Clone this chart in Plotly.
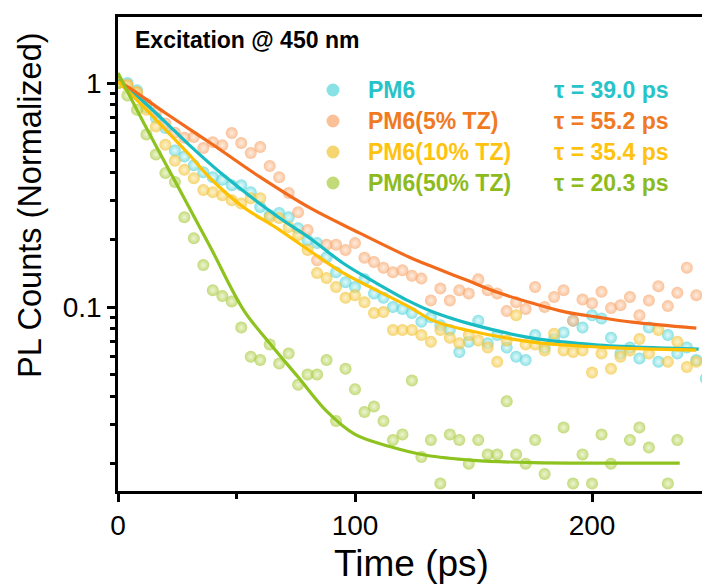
import plotly.graph_objects as go

# ---------------- data ----------------
time_ps = [0, 4, 8, 12, 16, 20, 24, 28, 32, 36, 40, 44, 48, 52, 56, 60, 64, 68, 72, 76,
           80, 84, 88, 92, 96, 100, 104, 108, 112, 116, 120, 124, 128, 132, 136, 140,
           144, 148, 152, 156, 160, 164, 168, 172, 176, 180, 184, 188, 192, 196, 200,
           204, 208, 212, 216, 220, 224, 228, 232, 236, 240, 244, 248]

pm6 = [1.0, 1.0, 0.93, 0.78, 0.70, 0.63, 0.50, 0.47, 0.43, 0.40, 0.38, 0.37, 0.35, 0.35,
       0.326, 0.28, 0.257, 0.263, 0.252, 0.225, 0.199, 0.193, 0.167, 0.143, 0.129, 0.123,
       0.133, 0.115, 0.11, 0.10, 0.098, 0.094, 0.086, 0.090, 0.083, 0.079, 0.063, 0.070,
       0.087, 0.069, 0.075, 0.066, 0.060, 0.058, 0.075, 0.066, 0.072, 0.077, 0.087, 0.081,
       0.092, 0.089, 0.073, 0.062, 0.066, 0.059, 0.081, 0.057, 0.075, 0.062, 0.066, 0.058,
       0.048]

pm6_5tz = [1.0, 0.98, 0.91, 0.81, 0.74, 0.66, 0.60, 0.57, 0.574, 0.513, 0.545, 0.528,
           0.598, 0.54, 0.487, 0.518, 0.426, 0.38, 0.323, 0.265, 0.221, 0.162, 0.19, 0.19,
           0.18, 0.193, 0.166, 0.159, 0.15, 0.143, 0.146, 0.138, 0.134, 0.107, 0.121, 0.107,
           0.119, 0.115, 0.133, 0.119, 0.115, 0.096, 0.105, 0.098, 0.123, 0.10, 0.111, 0.119,
           0.087, 0.108, 0.104, 0.117, 0.099, 0.102, 0.111, 0.092, 0.107, 0.124, 0.101,
           0.116, 0.15, 0.113]

pm6_10tz = [1.0, 0.98, 0.91, 0.76, 0.64, 0.53, 0.45, 0.41, 0.376, 0.333, 0.326, 0.316,
            0.30, 0.29, 0.306, 0.306, 0.252, 0.25, 0.228, 0.21, 0.18, 0.142, 0.135, 0.123,
            0.11, 0.113, 0.105, 0.094, 0.095, 0.079, 0.079, 0.079, 0.075, 0.070, 0.079,
            0.073, 0.069, 0.075, 0.071, 0.066, 0.057, 0.071, 0.092, 0.068, 0.068, 0.064,
            0.076, 0.064, 0.063, 0.064, 0.051, 0.062, 0.053, 0.060, 0.064, 0.072, 0.062,
            0.079, 0.057, 0.070, 0.054, 0.057]

pm6_50tz = [1.0, 0.88, 0.76, 0.59, 0.48, 0.397, 0.362, 0.252, 0.203, 0.154, 0.119, 0.112,
            0.106, 0.081, 0.060, 0.058, 0.068, 0.056, 0.062, 0.045, 0.050, 0.050, 0.058,
            0.031, 0.053, 0.043, 0.034, 0.036, 0.031, 0.0255, 0.027, 0.047, 0.0214, 0.0255,
            0.0163, 0.027, 0.0255, 0.020, 0.0255, 0.022, 0.022, 0.038, 0.022, 0.020, 0.0255,
            0.018, None, 0.029, 0.0163, 0.022, 0.0163, 0.027, 0.020, None, 0.0255, 0.029,
            0.0236, None, 0.0163, 0.0255]

# fitted decay curves
fit_pm6_t = [0, 10, 20, 30, 43, 67, 81, 95, 109, 123, 133, 147, 175, 203, 232, 245]
fit_pm6_v = [1.03, 0.84, 0.67, 0.53, 0.40, 0.255, 0.203, 0.157, 0.128, 0.106, 0.095,
             0.085, 0.0727, 0.0677, 0.0656, 0.0649]
fit_5tz_t = [0, 5, 20, 39, 60, 81, 102, 123, 133, 147, 161, 175, 189, 203, 217, 244]
fit_5tz_v = [1.02, 0.95, 0.735, 0.54, 0.38, 0.277, 0.214, 0.167, 0.151, 0.132, 0.1155,
             0.104, 0.095, 0.090, 0.0857, 0.0806]
fit_10tz_t = [0, 10, 20, 30, 39, 53, 67, 81, 95, 109, 123, 133, 147, 175, 203, 244]
fit_10tz_v = [1.02, 0.80, 0.62, 0.48, 0.375, 0.279, 0.225, 0.178, 0.142, 0.119, 0.100,
              0.087, 0.079, 0.0698, 0.0663, 0.0643]
fit_50tz_t = [0, 12, 25, 39, 53, 64, 76, 88, 100, 115, 130, 150, 175, 205, 237]
fit_50tz_v = [1.11, 0.63, 0.350, 0.185, 0.097, 0.069, 0.0487, 0.0343, 0.027, 0.0238,
              0.0218, 0.0207, 0.0202, 0.0201, 0.0201]

names = ["PM6", "PM6(5% TZ)", "PM6(10% TZ)", "PM6(50% TZ)"]
taus = ["39.0", "55.2", "35.4", "20.3"]

# ---------------- styles ----------------
marker_colors = ["#4FD3D9", "#F8A468", "#F2C12E", "#A6C93A"]
marker_light = ["#D8F6F7", "#FDE3CF", "#FBEBB5", "#E6F0BE"]
line_colors = ["#18BCC2", "#F26B1D", "#FFC000", "#8DC21F"]
text_colors = ["#27C3C9", "#F07A22", "#FFC20E", "#8DBB1E"]

series = [pm6, pm6_5tz, pm6_10tz, pm6_50tz]
fits = [(fit_pm6_t, fit_pm6_v), (fit_5tz_t, fit_5tz_v),
        (fit_10tz_t, fit_10tz_v), (fit_50tz_t, fit_50tz_v)]

fig = go.Figure()
for i, ys in enumerate(series):
    fig.add_trace(go.Scatter(
        x=time_ps[:len(ys)], y=ys, mode="markers", name=names[i], showlegend=False,
        marker=dict(size=12, color=marker_colors[i], opacity=0.68, line=dict(width=0),
                    gradient=dict(type="radial", color=marker_light[i]))))
for i, (ft, fv) in enumerate(fits):
    fig.add_trace(go.Scatter(
        x=ft, y=fv, mode="lines", showlegend=False, line_shape="spline",
        line=dict(color=line_colors[i], width=3.2)))

FONT = "Liberation Sans, Arial, sans-serif"

# plot-area geometry (pixels) for placing legend-like labels
L, R, T, B = 118, 702, 17, 491
W, H = R - L, B - T
def px(x):
    return (x - L) / W
def py(y):
    return (B - y) / H

annotations = [
    dict(text="<b>Excitation @ 450 nm</b>", x=px(133), y=py(40), xref="paper", yref="paper",
         xanchor="left", yanchor="middle", showarrow=False,
         font=dict(family=FONT, size=23, color="black")),
    dict(text="Time (ps)", x=px(411), y=py(563), xref="paper", yref="paper",
         xanchor="center", yanchor="middle", showarrow=False,
         font=dict(family=FONT, size=37, color="black")),
    dict(text="PL Counts (Normalized)", x=px(30), y=py(205), xref="paper", yref="paper",
         xanchor="center", yanchor="middle", showarrow=False, textangle=-90,
         font=dict(family=FONT, size=32.5, color="black")),
]
shapes = []
rows = [90, 121, 152, 183]
for i in range(4):
    annotations.append(dict(text="<b>%s</b>" % names[i], x=px(366), y=py(rows[i]),
                            xref="paper", yref="paper", xanchor="left", yanchor="middle",
                            showarrow=False, font=dict(family=FONT, size=23, color=text_colors[i])))
    annotations.append(dict(text="<b>τ = %s ps</b>" % taus[i], x=px(552), y=py(rows[i]),
                            xref="paper", yref="paper", xanchor="left", yanchor="middle",
                            showarrow=False, font=dict(family=FONT, size=23, color=text_colors[i])))
    r = 6.5
    shapes.append(dict(type="circle", xref="paper", yref="paper",
                       x0=px(333 - r), x1=px(333 + r), y0=py(rows[i] + r), y1=py(rows[i] - r),
                       fillcolor=marker_colors[i], opacity=0.68, line=dict(width=0)))

fig.update_layout(
    width=702, height=584,
    margin=dict(l=L, r=702 - R, t=T, b=584 - B, autoexpand=False),
    paper_bgcolor="white", plot_bgcolor="white",
    showlegend=False,
    annotations=annotations, shapes=shapes,
    font=dict(family=FONT, color="black"),
    xaxis=dict(range=[0, 246.4], showgrid=False, zeroline=False,
               showline=True, linecolor="black", linewidth=2.5, mirror=True,
               ticks="outside", ticklen=8, tickwidth=2.5, tickcolor="black",
               tickvals=[0, 100, 200], tickfont=dict(size=28, family=FONT),
               minor=dict(tickvals=[50, 150], ticks="outside", ticklen=5,
                          tickwidth=2.5, tickcolor="black")),
    yaxis=dict(type="log", range=[-1.821, 0.295], showgrid=False, zeroline=False,
               showline=True, linecolor="black", linewidth=2.5,
               ticks="outside", ticklen=8, tickwidth=2.5, tickcolor="black",
               tickvals=[0.1, 1], ticktext=["0.1", "1"], tickfont=dict(size=28, family=FONT),
               minor=dict(tickvals=[0.02, 0.03, 0.04, 0.05, 0.06, 0.07, 0.08, 0.09,
                                    0.2, 0.3, 0.4, 0.5, 0.6, 0.7, 0.8, 0.9],
                          ticks="outside", ticklen=5, tickwidth=2.5, tickcolor="black")),
)

fig.write_html("out.html", config={"displayModeBar": False},
               post_script="document.body.style.margin='0px';"
                           "document.body.style.overflow='hidden';")
